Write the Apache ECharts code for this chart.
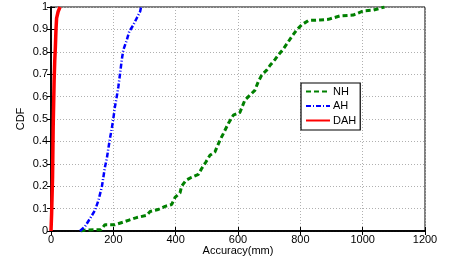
<!DOCTYPE html>
<html><head><meta charset="utf-8">
<script src="https://cdn.jsdelivr.net/npm/echarts@6/dist/echarts.min.js"></script>
<style>html,body{margin:0;padding:0;background:#fff}#c{width:451px;height:263px}</style>
</head><body><div id="c"></div>
<script>
const xTicks = [0, 200, 400, 600, 800, 1000, 1200];
const yTicks = [0, 0.1, 0.2, 0.3, 0.4, 0.5, 0.6, 0.7, 0.8, 0.9, 1];
const seriesNames = ['NH', 'AH', 'DAH'];

const nhAcc = [95, 110, 160, 173, 205, 232, 253, 275, 307, 318, 344, 366, 387, 398, 414, 419, 433, 451, 473, 483, 497, 510, 526, 542, 553, 569, 585, 606, 622, 638, 654, 665, 676, 692, 703, 719, 729, 743, 758, 772, 788, 804, 826, 863, 890, 927, 970, 1002, 1034, 1070];
const nhCdf = [0, 0.004, 0.006, 0.028, 0.028, 0.04, 0.05, 0.06, 0.07, 0.087, 0.096, 0.11, 0.118, 0.15, 0.17, 0.2, 0.226, 0.24, 0.253, 0.278, 0.308, 0.338, 0.353, 0.405, 0.435, 0.48, 0.517, 0.529, 0.584, 0.606, 0.628, 0.666, 0.696, 0.718, 0.74, 0.766, 0.785, 0.808, 0.838, 0.867, 0.897, 0.92, 0.94, 0.942, 0.945, 0.96, 0.964, 0.983, 0.986, 1.0];

const ahAcc = [93, 109, 125, 141, 152, 163, 168, 173, 179, 184, 189, 195, 200, 205, 211, 216, 221, 227, 232, 243, 251, 264, 275, 286, 289];
const ahCdf = [0, 0.02, 0.055, 0.092, 0.136, 0.196, 0.24, 0.285, 0.323, 0.368, 0.412, 0.457, 0.502, 0.554, 0.6, 0.643, 0.696, 0.763, 0.808, 0.852, 0.89, 0.919, 0.95, 0.98, 1.0];

const dahAcc = [0, 2, 5, 7, 10, 12, 14, 16, 18, 23, 29];
const dahCdf = [0, 0.077, 0.24, 0.464, 0.67, 0.76, 0.82, 0.9, 0.95, 0.98, 1.0];

function pairs(xs, ys) { return xs.map((x, i) => [x, ys[i]]); }

const font = "'Liberation Sans', Arial, sans-serif";
const fmtY = v => (Math.abs(v) < 1e-9 ? '0' : Math.abs(v - 1) < 1e-9 ? '1' : v.toFixed(1));
const fmtX = v => String(Math.round(v));
const gridLine = { show: true, lineStyle: { color: '#b0b0b0', type: [1, 2], width: 1 } };

const chart = echarts.init(document.getElementById('c'), null, { renderer: 'canvas' });
chart.setOption({
  animation: false,
  backgroundColor: '#fff',
  grid: { left: 51, right: 26, top: 7, bottom: 32, show: true, borderColor: '#000', borderWidth: 1 },
  legend: {
    data: seriesNames,
    orient: 'vertical', left: 301, top: 83,
    backgroundColor: '#fff', borderColor: '#000', borderWidth: 1.2, borderRadius: 0,
    padding: [3, 4, 4, 4], itemGap: 3.5, itemWidth: 24, itemHeight: 11,
    itemStyle: { color: 'rgba(0,0,0,0)', borderWidth: 0, opacity: 0 },
    textStyle: { fontFamily: font, fontSize: 11, color: '#000', padding: [0, 0, 0, -2] }
  },
  xAxis: [{
    type: 'value', min: xTicks[0], max: xTicks[xTicks.length - 1], interval: 200,
    name: 'Accuracy(mm)', nameLocation: 'middle', nameGap: 14, nameMoveOverlap: false,
    nameTextStyle: { fontFamily: font, fontSize: 11, color: '#000' },
    axisLine: { show: true, lineStyle: { color: '#000', width: 1.5 } },
    axisTick: { show: true, inside: true, length: 4, lineStyle: { color: '#000' } },
    axisLabel: { fontFamily: font, fontSize: 11, color: '#000', margin: 3, formatter: fmtX },
    splitLine: gridLine
  }, {
    type: 'value', position: 'top', min: xTicks[0], max: xTicks[xTicks.length - 1], interval: 200,
    axisLine: { show: true, lineStyle: { color: '#000', width: 1.5 } },
    axisTick: { show: true, inside: true, length: 4, lineStyle: { color: '#000' } },
    axisLabel: { show: false }, splitLine: { show: false }
  }],
  yAxis: [{
    type: 'value', min: yTicks[0], max: yTicks[yTicks.length - 1], interval: 0.1,
    name: 'CDF', nameLocation: 'middle', nameGap: 25, nameMoveOverlap: false,
    nameTextStyle: { fontFamily: font, fontSize: 11, color: '#000' },
    axisLine: { show: true, lineStyle: { color: '#000', width: 1.5 } },
    axisTick: { show: true, inside: true, length: 4, lineStyle: { color: '#000' } },
    axisLabel: { fontFamily: font, fontSize: 11, color: '#000', margin: 3, formatter: fmtY },
    splitLine: gridLine
  }, {
    type: 'value', position: 'right', min: yTicks[0], max: yTicks[yTicks.length - 1], interval: 0.1,
    axisLine: { show: true, lineStyle: { color: '#000', width: 1.5 } },
    axisTick: { show: true, inside: true, length: 4, lineStyle: { color: '#000' } },
    axisLabel: { show: false }, splitLine: { show: false }
  }],
  series: [
    { name: seriesNames[0], type: 'line', symbol: 'none', data: pairs(nhAcc, nhCdf),
      color: '#008000', lineStyle: { color: '#008000', width: 3, type: [5, 3] } },
    { name: seriesNames[1], type: 'line', symbol: 'none', data: pairs(ahAcc, ahCdf),
      color: '#0000ff', lineStyle: { color: '#0000ff', width: 2.5, type: [5, 2, 1, 2] } },
    { name: seriesNames[2], type: 'line', symbol: 'none', data: pairs(dahAcc, dahCdf),
      color: '#ff0000', lineStyle: { color: '#ff0000', width: 3.5, type: 'solid' } }
  ]
});
</script></body></html>
